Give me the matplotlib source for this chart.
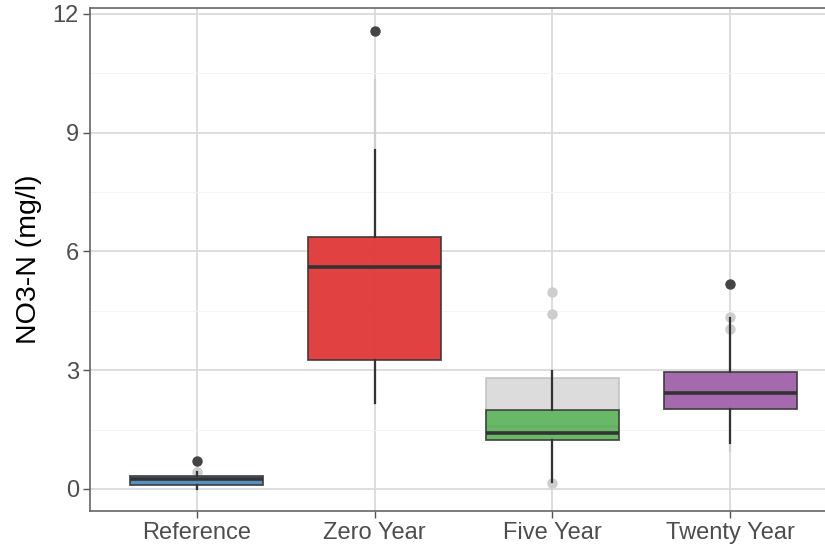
import matplotlib
matplotlib.use("Agg")
import matplotlib.pyplot as plt
from matplotlib.ticker import MultipleLocator

plt.rcParams['font.family'] = ['Liberation Sans', 'DejaVu Sans']

# Site categories
categories = ["Reference", "Zero Year", "Five Year", "Twenty Year"]
colors = ["#377EB8", "#E41A1C", "#4DAF4A", "#984EA3"]

# Summary statistics per category (NO3-N, mg/l)
q1 = [0.10, 3.26, 1.24, 2.02]
median = [0.26, 5.60, 1.41, 2.42]
q3 = [0.33, 6.37, 2.00, 2.96]
whisker_low = [0.00, 2.18, 0.18, 1.17]
whisker_high = [0.44, 8.57, 2.98, 4.31]
outliers = [[0.71], [11.57], [], [5.18]]

# Background (all-sampling) summary shown in grey behind each group
bg_q1 = [0.10, 3.26, 1.24, 2.02]
bg_median = [0.26, 5.60, 1.60, 2.42]
bg_q3 = [0.33, 6.37, 2.80, 2.96]
bg_whisker_low = [0.00, 2.18, 0.30, 0.95]
bg_whisker_high = [0.42, 10.33, 2.98, 3.90]
bg_outliers = [[0.42], [], [4.97, 4.41, 0.15], [4.35, 4.04]]

y_ticks = [0, 3, 6, 9, 12]
y_label = "NO3-N (mg/l)"


def make_stats(lo, a, m, b, hi, fl):
    return [dict(whislo=lo[i], q1=a[i], med=m[i], q3=b[i], whishi=hi[i],
                 fliers=fl[i], label=categories[i]) for i in range(len(categories))]


fig = plt.figure(figsize=(8.25, 5.48), dpi=100)
ax = fig.add_axes([90 / 825, 37 / 548, 747 / 825, 503 / 548])

positions = list(range(1, len(categories) + 1))

# grey background layer
bg = ax.bxp(make_stats(bg_whisker_low, bg_q1, bg_median, bg_q3, bg_whisker_high, bg_outliers),
            positions=positions, widths=0.75, patch_artist=True, showcaps=False,
            boxprops=dict(facecolor="#D6D6D6", edgecolor="#BDBDBD", linewidth=1.2, alpha=0.85),
            medianprops=dict(color="#BDBDBD", linewidth=2.0),
            whiskerprops=dict(color="#CFCFCF", linewidth=1.6),
            flierprops=dict(marker="o", markerfacecolor="#CDCDCD", markeredgecolor="#CDCDCD",
                            markersize=6.5),
            zorder=2)

# coloured group layer
fg = ax.bxp(make_stats(whisker_low, q1, median, q3, whisker_high, outliers),
            positions=positions, widths=0.75, patch_artist=True, showcaps=False,
            boxprops=dict(edgecolor="#333333", linewidth=1.3),
            medianprops=dict(color="#333333", linewidth=2.6),
            whiskerprops=dict(color="#333333", linewidth=1.6),
            flierprops=dict(marker="o", markerfacecolor="#444444", markeredgecolor="#444444",
                            markersize=6.5),
            zorder=3)
for patch, c in zip(fg["boxes"], colors):
    patch.set_facecolor(c)
    patch.set_alpha(0.8)
    patch.set_edgecolor("#333333")

ax.set_xlim(0.4, 4.6)
ax.set_ylim(-0.556, 12.15)
ax.set_yticks(y_ticks)
ax.set_yticklabels([str(t) for t in y_ticks])
ax.yaxis.set_minor_locator(MultipleLocator(1.5))
ax.set_xticks(positions)
ax.set_xticklabels(categories)

ax.set_axisbelow(True)
ax.grid(which="major", color="#DADADA", linewidth=1.3)
ax.grid(which="minor", axis="y", color="#F4F4F4", linewidth=0.7)
ax.tick_params(which="minor", length=0)
ax.tick_params(which="major", length=5, width=1.0, color="#555555",
               labelsize=17, labelcolor="#4D4D4D", pad=3)

for side, sp in ax.spines.items():
    sp.set_color("#666666")
    sp.set_linewidth(1.2)

ax.set_ylabel(y_label, fontsize=20.5, color="black", labelpad=8)

fig.savefig("out.png", dpi=100)
